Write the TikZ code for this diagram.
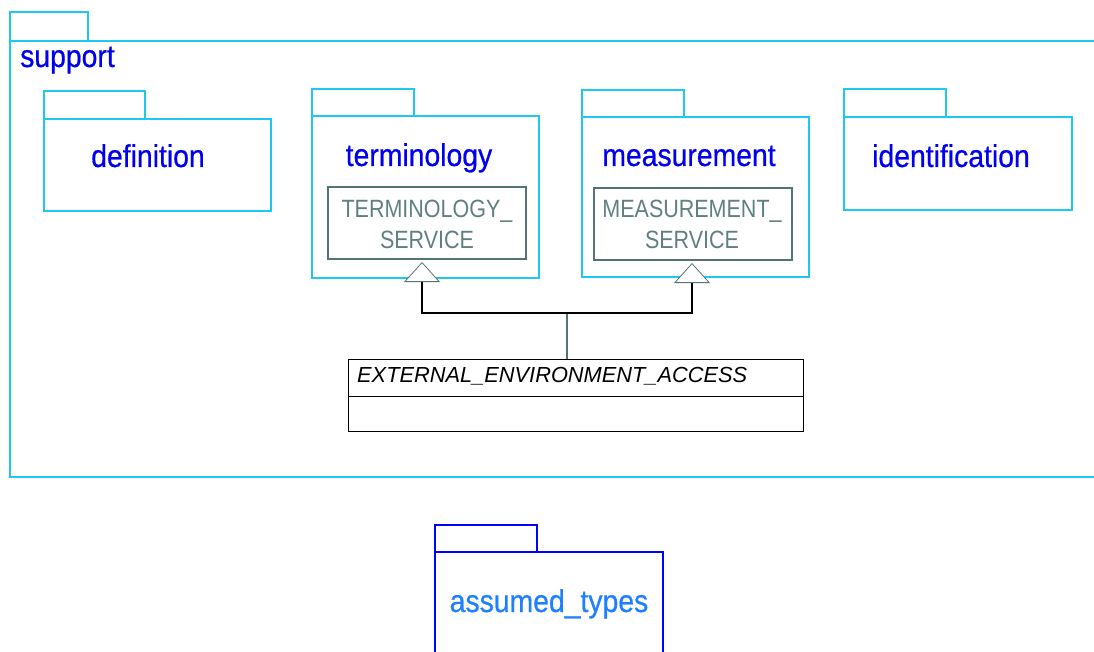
\documentclass[tikz,border=0pt]{standalone}
\usepackage{fontspec}
\setmainfont{Liberation Sans}
\newfontfamily\pkgfont[FakeStretch=0.9,FakeBold=0.6]{Liberation Sans}
\newfontfamily\svcfont[FakeStretch=0.86]{Liberation Sans}
\usetikzlibrary{positioning,arrows.meta}

\definecolor{pkgcyan}{RGB}{30,200,240}
\definecolor{pkgblue}{RGB}{0,0,238}
\definecolor{typeblue}{RGB}{30,128,255}
\definecolor{svcgray}{RGB}{96,128,128}
\definecolor{svcline}{RGB}{84,116,116}

\tikzset{
  pkgbody/.style={draw=pkgcyan, line width=2pt, inner sep=0pt, outer sep=0pt, anchor=north west},
  pkgtab/.style={draw=pkgcyan, line width=2pt},
  pkglabel/.style={text=pkgblue, inner sep=0pt, anchor=base, font=\pkgfont\fontsize{31.5}{36}\selectfont},
  svcbox/.style={draw=svcline, line width=2pt, inner sep=0pt, outer sep=0pt, minimum width=198pt, minimum height=72pt},
  svctext/.style={text=svcgray, inner sep=0pt, anchor=base, font=\svcfont\fontsize{25}{30}\selectfont},
  clsbox/.style={draw=black, line width=0.8pt, inner sep=0pt, outer sep=0pt, minimum width=455pt, anchor=north west},
  gen/.style={draw=black, line width=2pt, -{Triangle[length=20pt,width=36pt,fill=white,color=svcline,line width=0.8pt]}},
  stem/.style={draw=svcline, line width=2pt}
}

\begin{document}
\begin{tikzpicture}[x=1pt,y=-1pt]
    \useasboundingbox (0,0) rectangle (1094,652);
    % support package
    \draw [pkgtab] (10,12) rectangle (88,41);
    \draw [pkgtab] (1100,41) -- (10,41) -- (10,477) -- (1100,477);
    \node [pkglabel, anchor=base west] (support) at (20,67) {support};
    % inner packages
    \node [pkgbody, minimum width=227pt, minimum height=92pt] (definition) at (44,119) {};
    \draw [pkgtab] (definition.north west) rectangle ++(101,-28);
    \node [pkglabel] (deflabel) at (148,167) {definition};
    \node [pkgbody, minimum width=227pt, minimum height=162pt] (terminology) at (312,116) {};
    \draw [pkgtab] (terminology.north west) rectangle ++(102,-27);
    \node [pkglabel] (termlabel) at (419,166) {terminology};
    \node [pkgbody, minimum width=227pt, minimum height=160pt] (measurement) at (582,117) {};
    \draw [pkgtab] (measurement.north west) rectangle ++(102,-27);
    \node [pkglabel] (measlabel) at (689,166) {measurement};
    \node [pkgbody, minimum width=228pt, minimum height=93pt] (identification) at (844,117) {};
    \draw [pkgtab] (identification.north west) rectangle ++(102,-28);
    \node [pkglabel] (identlabel) at (951,167) {identification};
    % service classes
    \node [svcbox] (termsvc) at (427,223) {};
    \node [svctext] (termsvc1) at (427,218) {TERMINOLOGY\_};
    \node [svctext] (termsvc2) at (427,248) {SERVICE};
    \node [svcbox] (meassvc) at (693,224) {};
    \node [svctext] (meassvc1) at (692,218) {MEASUREMENT\_};
    \node [svctext] (meassvc2) at (692,249) {SERVICE};
    % access class
    \node [clsbox, minimum height=37pt] (eea) at (348,359) {};
    \node [inner sep=0pt, anchor=base west, font=\fontsize{21.8}{26}\selectfont\itshape] (eeaname) at (357,382) {EXTERNAL\_ENVIRONMENT\_ACCESS};
    \node [clsbox, minimum height=35pt, below=0pt of eea.south west, anchor=north west] (eeaattr) {};
    % inheritance
    \coordinate (fork) at (567,313);
    \draw [stem] (eea.north -| fork) -- (fork);
    \draw [gen] (fork) -| ([xshift=-5pt, yshift=-3pt]termsvc.south);
    \draw [gen] (fork) -| ([xshift=-1pt, yshift=-3pt]meassvc.south);
    % assumed_types package
    \node [pkgbody, draw=blue, minimum width=228pt, minimum height=120pt] (assumed) at (435,552) {};
    \draw [pkgtab, draw=blue] (assumed.north west) rectangle ++(102,-27);
    \node [pkglabel, text=typeblue] (assumedlabel) at (549,612) {assumed\_types};
\end{tikzpicture}
\end{document}
